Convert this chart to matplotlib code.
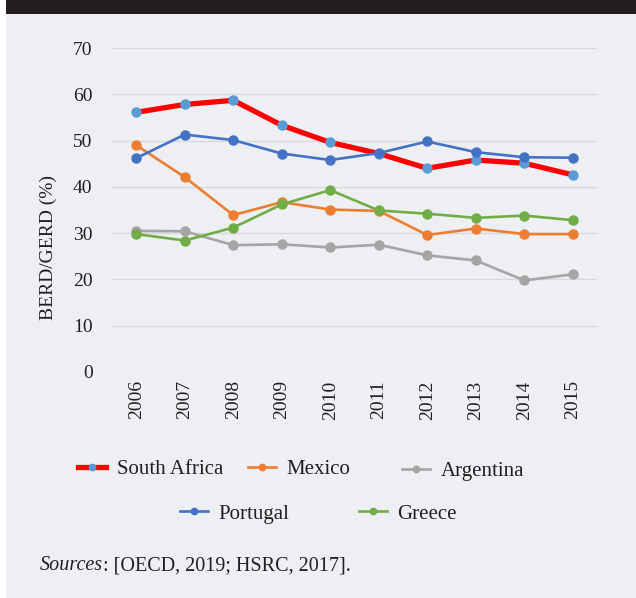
import matplotlib.pyplot as plt
from matplotlib.patches import Rectangle

plt.rcParams['font.family'] = ['Liberation Serif', 'DejaVu Serif']

years = ['2006', '2007', '2008', '2009', '2010', '2011', '2012', '2013', '2014', '2015']

south_africa = [56.1, 57.8, 58.7, 53.3, 49.6, 47.2, 44.0, 45.8, 45.1, 42.6]
mexico = [49.0, 42.1, 33.9, 36.7, 35.1, 34.8, 29.6, 31.0, 29.8, 29.8]
argentina = [30.5, 30.4, 27.4, 27.6, 26.9, 27.5, 25.2, 24.1, 19.8, 21.1]
portugal = [46.2, 51.3, 50.1, 47.2, 45.8, 47.3, 49.8, 47.5, 46.4, 46.3]
greece = [29.8, 28.4, 31.2, 36.2, 39.3, 34.9, 34.2, 33.3, 33.8, 32.8]

names = ['South Africa', 'Mexico', 'Argentina', 'Portugal', 'Greece']
series = [south_africa, mexico, argentina, portugal, greece]
line_colors = ['#ff0000', '#ed7d31', '#a5a5a5', '#4472c4', '#70ad47']
marker_colors = ['#5b9bd5', '#ed7d31', '#a5a5a5', '#4472c4', '#70ad47']
widths = [3.8, 1.9, 1.9, 1.9, 1.9]

bg = '#eeeff3'
ink = '#231f20'
fig = plt.figure(figsize=(6.36, 5.98), dpi=100)
fig.patch.set_facecolor(bg)

# white strip on left and dark band on top
fig.patches.append(Rectangle((0, 0), 6 / 636, 1, transform=fig.transFigure,
                             facecolor='white', edgecolor='none', zorder=0))
fig.patches.append(Rectangle((6 / 636, 1 - 14 / 598), 1, 14 / 598, transform=fig.transFigure,
                             facecolor=ink, edgecolor='none', zorder=1))

ax = fig.add_axes([112 / 636, 1 - 372 / 598, (597 - 112) / 636, (372 - 48) / 598])
ax.set_facecolor(bg)

x = list(range(len(years)))
handles = []
for name, vals, lc, mc, lw in zip(names, series, line_colors, marker_colors, widths):
    h, = ax.plot(x, vals, color=lc, linewidth=lw, marker='o', markersize=6.5,
                 markerfacecolor=mc, markeredgecolor=mc, label=name, zorder=3)
    handles.append(h)

ax.set_xlim(-0.5, len(years) - 0.5)
ax.set_ylim(0, 70)
ax.set_yticks(range(0, 71, 10))
ax.set_xticks(x)
ax.set_xticklabels(years, rotation=90)
ax.tick_params(axis='both', length=0, labelsize=14, colors=ink)
ax.tick_params(axis='y', pad=14)
ax.tick_params(axis='x', pad=6)
ax.grid(axis='y', color='#d9d9d9', linewidth=1)
ax.set_axisbelow(True)
for s in ax.spines.values():
    s.set_visible(False)

fig.text(48 / 636, 1 - 247 / 598, 'BERD/GERD (%)', rotation=90, ha='center', va='center',
         fontsize=14, color=ink)

# legend entries placed like the original, two rows
legend_pos = [(78, 469), (248, 469), (402, 471), (180, 514), (359, 514)]
for h, (px, py) in zip(handles, legend_pos):
    leg = fig.legend([h], [h.get_label()], loc='center left',
                     bbox_to_anchor=(px / 636, 1 - py / 598), frameon=False,
                     fontsize=15, handlelength=1.35, handletextpad=0.5,
                     borderpad=0, borderaxespad=0, markerscale=0.7)
    for t in leg.get_texts():
        t.set_color(ink)

# sources line: italic word then the rest
src1 = fig.text(40 / 636, 1 - 566 / 598, 'Sources', fontsize=14.5, fontstyle='italic',
                va='center', color=ink)
fig.canvas.draw()
bb = src1.get_window_extent()
fig.text(bb.x1 / fig.bbox.width, 1 - 566 / 598, ': [OECD, 2019; HSRC, 2017].',
         fontsize=14.5, va='center', color=ink)

plt.savefig('out.png', dpi=100, facecolor=fig.get_facecolor())
